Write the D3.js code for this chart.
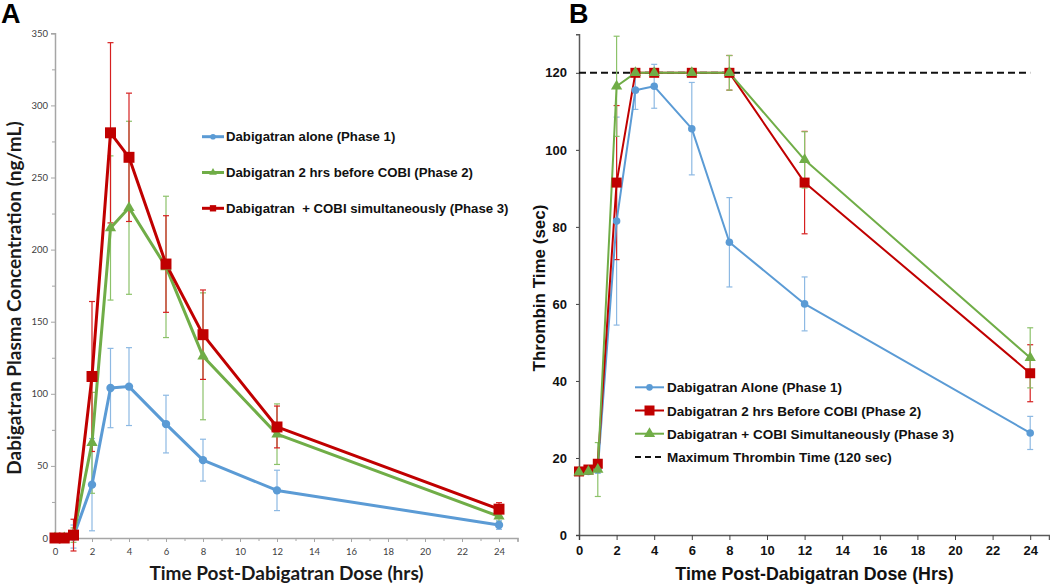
<!DOCTYPE html>
<html><head><meta charset="utf-8">
<script src="https://cdn.jsdelivr.net/npm/d3@7"></script>
<style>body{margin:0;background:#fff}svg{display:block}</style>
</head><body>
<svg id="c" width="1050" height="585"></svg>
<script>
// ---------- Panel A data ----------
const timesA = [0, 0.5, 1, 2, 3, 4, 6, 8, 12, 24];
const aloneA = [0, 0, 1, 37, 104, 105, 79, 54, 33, 9];
const aloneAErr = [0, 0, 8, 32, 27.5, 27, 20, 14.5, 14, 3];
const before2A = [0, 0, 2, 66, 215, 229, 188, 126, 72, 15];
const before2AErr = [0, 0, 5, 35, 50, 60, 49, 44, 21, 4];
const simul3A = [0, 0, 2, 112, 281, 264, 190, 141, 77, 20];
const simul3AErr = [0, 0, 11, 52, 62.5, 44.5, 33.5, 31, 14.5, 4.5];
const labelsA = ["Dabigatran alone (Phase 1)", "Dabigatran 2 hrs before COBI (Phase 2)", "Dabigatran  + COBI simultaneously (Phase 3)"];
const xTicksA = [0, 2, 4, 6, 8, 10, 12, 14, 16, 18, 20, 22, 24];
const yTicksA = [0, 50, 100, 150, 200, 250, 300, 350];

// ---------- Panel B data ----------
const timesB = [0, 0.5, 1, 2, 3, 4, 6, 8, 12, 24];
const aloneB = [16.5, 16.5, 17, 81.5, 115.5, 116.5, 105.5, 76, 60, 26.5];
const aloneBErr = [0.5, 0.5, 1, 27, 5, 5.7, 12, 11.6, 7, 4.3];
const before2B = [16.5, 17, 18.5, 91.5, 120, 120, 120, 120, 91.5, 42];
const before2BErr = [0.5, 0.5, 1, 20, 0, 0, 0, 4.5, 13.3, 7.4];
const simul3B = [16.3, 16.5, 17, 116.5, 120, 120, 120, 120, 97.4, 46];
const simul3BErr = [0.5, 0.5, 7, 13, 0, 0, 0, 4.5, 7.3, 7.8];
const maxTT = 120;
const labelsB = ["Dabigatran Alone (Phase 1)", "Dabigatran 2 hrs Before COBI (Phase 2)", "Dabigatran + COBI Simultaneously (Phase 3)", "Maximum Thrombin Time (120 sec)"];
const xTicksB = [0, 2, 4, 6, 8, 10, 12, 14, 16, 18, 20, 22, 24];
const yTicksB = [0, 20, 40, 60, 80, 100, 120];

const BLUE = "#5B9BD5", GREEN = "#70AD47", RED = "#C00000";
const svg = d3.select("#c");

// ================= PANEL A =================
const xA = d3.scaleLinear().domain([0, 25]).range([55, 517.5]);
const yA = d3.scaleLinear().domain([0, 350]).range([538, 33.3]);
const gA = svg.append("g");
const axisCol = "#A6A6A6";

const yAxA = gA.append("g").attr("transform", `translate(${xA(0)},0)`)
  .call(d3.axisLeft(yA).tickValues(d3.range(0, 351, 25)).tickSize(4).tickFormat(d => yTicksA.includes(d) ? d : ""));
const xAxA = gA.append("g").attr("transform", `translate(0,${yA(0)})`)
  .call(d3.axisBottom(xA).tickValues(d3.range(0, 26, 1)).tickSize(4).tickFormat(d => xTicksA.includes(d) ? d : "").tickPadding(6));
[yAxA, xAxA].forEach(a => {
  a.select(".domain").attr("stroke", axisCol).attr("stroke-width", 1.5);
  a.selectAll(".tick line").attr("stroke", axisCol);
  a.selectAll("text").attr("font-family", "Lato, 'Open Sans', sans-serif").attr("font-size", 9.5).attr("fill", "#404040");
});
yAxA.selectAll(".tick").filter(d => !yTicksA.includes(d)).select("line").attr("x2", -3);
xAxA.selectAll(".tick").filter(d => !xTicksA.includes(d)).select("line").attr("y2", 3);

function errBars(g, x, y, t, v, e, col, w, cap) {
  t.forEach((tt, i) => {
    if (!e[i]) return;
    const cx = x(tt);
    g.append("line").attr("x1", cx).attr("x2", cx).attr("y1", y(v[i] - e[i])).attr("y2", y(v[i] + e[i])).attr("stroke", col).attr("stroke-width", w);
    [v[i] - e[i], v[i] + e[i]].forEach(val => {
      g.append("line").attr("x1", cx - cap).attr("x2", cx + cap).attr("y1", y(val)).attr("y2", y(val)).attr("stroke", col).attr("stroke-width", w);
    });
  });
}
function series(g, x, y, t, v, col, lw) {
  const line = d3.line().x((d, i) => x(t[i])).y(d => y(d));
  g.append("path").attr("d", line(v)).attr("fill", "none").attr("stroke", col).attr("stroke-width", lw).attr("stroke-linejoin", "round");
}
function markers(g, x, y, t, v, col, type, size) {
  const sym = type === "circle" ? d3.symbolCircle : type === "square" ? d3.symbolSquare : d3.symbolTriangle;
  g.selectAll(null).data(v).enter().append("path")
    .attr("d", d3.symbol().type(sym).size(size))
    .attr("transform", (d, i) => `translate(${x(t[i])},${y(d)})`)
    .attr("fill", col);
}

errBars(gA, xA, yA, timesA, aloneA, aloneAErr, "#8DB9E3", 1.2, 3);
errBars(gA, xA, yA, timesA, before2A, before2AErr, "#8CC26A", 1.2, 3);
errBars(gA, xA, yA, timesA, simul3A, simul3AErr, "#D62020", 1.2, 3);
series(gA, xA, yA, timesA, aloneA, BLUE, 3);
series(gA, xA, yA, timesA, before2A, GREEN, 3);
series(gA, xA, yA, timesA, simul3A, RED, 3);
markers(gA, xA, yA, timesA, aloneA, BLUE, "circle", 55);
markers(gA, xA, yA, timesA, before2A, GREEN, "triangle", 55);
markers(gA, xA, yA, timesA, simul3A, RED, "square", 120);

// legend A
const legA = [[BLUE, "circle", 25], [GREEN, "triangle", 25], [RED, "square", 40]];
legA.forEach((m, i) => {
  const ly = 136.7 + i * 35.8;
  gA.append("line").attr("x1", 202).attr("x2", 224).attr("y1", ly).attr("y2", ly).attr("stroke", m[0]).attr("stroke-width", 3);
  gA.append("path").attr("d", d3.symbol().type(m[1] === "circle" ? d3.symbolCircle : m[1] === "square" ? d3.symbolSquare : d3.symbolTriangle).size(m[2])).attr("transform", `translate(213,${ly})`).attr("fill", m[0]);
  gA.append("text").attr("x", 226).attr("y", ly + 4.7).text(labelsA[i])
    .attr("font-family", "'Liberation Sans', Arial, sans-serif").attr("font-weight", "bold").attr("font-size", 13.2).attr("fill", "#111").style("white-space", "pre");
});

// titles A
gA.append("text").attr("transform", "translate(21,298) rotate(-90)").attr("text-anchor", "middle")
  .attr("font-family", "Lato, sans-serif").attr("font-weight", "bold").attr("font-size", 19).attr("fill", "#1a1a1a")
  .text("Dabigatran Plasma Concentration (ng/mL)");
gA.append("text").attr("x", 286.5).attr("y", 580).attr("text-anchor", "middle")
  .attr("font-family", "Lato, sans-serif").attr("font-weight", "bold").attr("font-size", 19).attr("fill", "#1a1a1a")
  .text("Time Post-Dabigatran Dose (hrs)");
gA.append("text").attr("x", 1).attr("y", 23).attr("font-family", "'Liberation Sans', Arial, sans-serif").attr("font-weight", "bold").attr("font-size", 27).text("A");

// ================= PANEL B =================
const xB = d3.scaleLinear().domain([0, 25]).range([579, 1049]);
const yB = d3.scaleLinear().domain([0, 130]).range([535, 34.3]);
const gB = svg.append("g");
const yAxB = gB.append("g").attr("transform", `translate(${xB(0)},0)`)
  .call(d3.axisLeft(yB).tickValues(yTicksB).tickSize(3).tickPadding(9));
const xAxB = gB.append("g").attr("transform", `translate(0,${yB(0)})`)
  .call(d3.axisBottom(xB).tickValues(xTicksB).tickSize(5).tickPadding(6));
[yAxB, xAxB].forEach(a => {
  a.select(".domain").attr("stroke", "#595959").attr("stroke-width", 1.5);
  a.selectAll(".tick line").attr("stroke", "#404040");
  a.selectAll("text").attr("font-family", "'Liberation Sans', Arial, sans-serif").attr("font-weight", "bold").attr("font-size", 13).attr("fill", "#111");
});

gB.append("line").attr("x1", xB(0)).attr("x2", xB(24)).attr("y1", yB(maxTT)).attr("y2", yB(maxTT))
  .attr("stroke", "#111").attr("stroke-width", 2).attr("stroke-dasharray", "7,4");

errBars(gB, xB, yB, timesB, aloneB, aloneBErr, "#8DB9E3", 1.2, 3);
errBars(gB, xB, yB, timesB, before2B, before2BErr, "#D62020", 1.2, 3);
errBars(gB, xB, yB, timesB, simul3B, simul3BErr, "#8CC26A", 1.2, 3);
series(gB, xB, yB, timesB, aloneB, BLUE, 2);
series(gB, xB, yB, timesB, before2B, RED, 2);
series(gB, xB, yB, timesB, simul3B, GREEN, 2);
markers(gB, xB, yB, timesB, aloneB, BLUE, "circle", 45);
markers(gB, xB, yB, timesB, before2B, RED, "square", 100);
markers(gB, xB, yB, timesB, simul3B, GREEN, "triangle", 55);

// legend B
const legB = [[BLUE, "circle", 35], [RED, "square", 100], [GREEN, "triangle", 55]];
legB.forEach((m, i) => {
  const ly = 387.3 + i * 23.2;
  gB.append("line").attr("x1", 635).attr("x2", 664).attr("y1", ly).attr("y2", ly).attr("stroke", m[0]).attr("stroke-width", 2);
  gB.append("path").attr("d", d3.symbol().type(m[1] === "circle" ? d3.symbolCircle : m[1] === "square" ? d3.symbolSquare : d3.symbolTriangle).size(m[2])).attr("transform", `translate(649.5,${ly})`).attr("fill", m[0]);
  gB.append("text").attr("x", 667).attr("y", ly + 5).text(labelsB[i])
    .attr("font-family", "'Liberation Sans', Arial, sans-serif").attr("font-weight", "bold").attr("font-size", 13.5).attr("fill", "#111");
});
{
  const ly = 387.3 + 3 * 23.2;
  gB.append("line").attr("x1", 635).attr("x2", 664).attr("y1", ly).attr("y2", ly).attr("stroke", "#111").attr("stroke-width", 2).attr("stroke-dasharray", "6,4");
  gB.append("text").attr("x", 667).attr("y", ly + 5).text(labelsB[3])
    .attr("font-family", "'Liberation Sans', Arial, sans-serif").attr("font-weight", "bold").attr("font-size", 13.5).attr("fill", "#111");
}

// titles B
gB.append("text").attr("transform", "translate(545,288) rotate(-90)").attr("text-anchor", "middle")
  .attr("font-family", "'Liberation Sans', Arial, sans-serif").attr("font-weight", "bold").attr("font-size", 17).attr("fill", "#111")
  .text("Thrombin Time (sec)");
gB.append("text").attr("x", 814.5).attr("y", 580).attr("text-anchor", "middle")
  .attr("font-family", "'Liberation Sans', Arial, sans-serif").attr("font-weight", "bold").attr("font-size", 17.8).attr("fill", "#111")
  .text("Time Post-Dabigatran Dose (Hrs)");
gB.append("text").attr("x", 569).attr("y", 23).attr("font-family", "'Liberation Sans', Arial, sans-serif").attr("font-weight", "bold").attr("font-size", 27).text("B");
</script>
</body></html>
